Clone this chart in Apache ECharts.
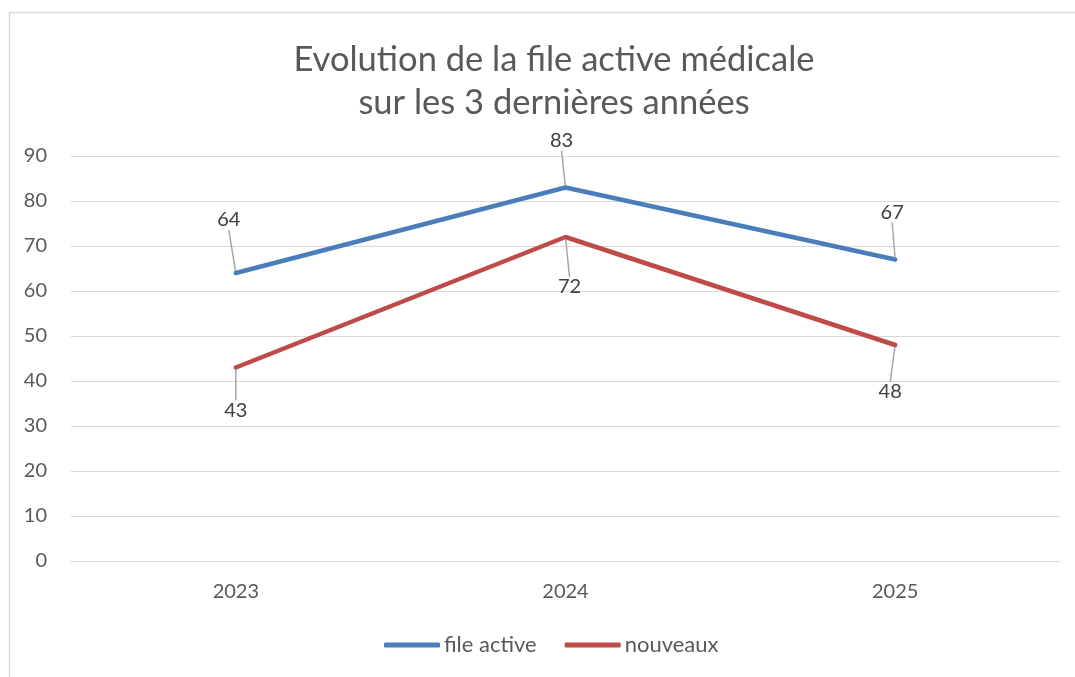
<!DOCTYPE html>
<html>
<head>
<meta charset="utf-8">
<script src="https://cdn.jsdelivr.net/npm/echarts@6/dist/echarts.min.js"></script>
<style>
  html, body { margin: 0; padding: 0; background: #fff; }
  #chart { width: 1075px; height: 677px; }
</style>
</head>
<body>
<div id="chart"></div>
<script>
// données
var annees = ['2023', '2024', '2025'];
var fileActive = [64, 83, 67];
var nouveaux = [43, 72, 48];
var yTicks = [0, 10, 20, 30, 40, 50, 60, 70, 80, 90];

// décalage des étiquettes (style callout Excel)
var decalFile = [[-7, -53], [-4, -47], [-3, -47]];
var decalNouv = [[0, 43], [4, 50], [-5, 47]];

var police = 'Lato, "Liberation Sans", sans-serif';
var gris = '#595959';

function placer(decal) {
    return function (p) {
        var d = decal[p.dataIndex];
        return {
            x: p.rect.x + p.rect.width / 2 + d[0],
            y: p.rect.y + p.rect.height / 2 + d[1],
            align: 'center',
            verticalAlign: 'middle'
        };
    };
}

var myChart = echarts.init(document.getElementById('chart'));
myChart.setOption({
    animation: false,
    textStyle: { fontFamily: police },
    graphic: [{
        type: 'rect',
        shape: { x: 9.5, y: 12.5, width: 1100, height: 700 },
        style: { fill: 'none', stroke: '#d9d9d9', lineWidth: 1.5 },
        silent: true
    }],
    title: {
        text: 'Evolution de la file active médicale\nsur les 3 dernières années',
        left: 549,
        textAlign: 'center',
        top: 33,
        textStyle: {
            fontFamily: police,
            fontSize: 34.5,
            fontWeight: 'normal',
            color: gris,
            lineHeight: 43
        }
    },
    grid: { left: 71, right: 15, top: 156, bottom: 116 },
    legend: {
        bottom: 16,
        left: 379,
        icon: 'roundRect',
        itemWidth: 56,
        itemHeight: 5,
        itemGap: 28,
        textStyle: { fontFamily: police, fontSize: 22, color: gris, padding: [0, 0, 0, -1] },
        data: ['file active', 'nouveaux']
    },
    xAxis: {
        type: 'category',
        data: annees,
        boundaryGap: true,
        axisLine: { lineStyle: { color: '#d9d9d9', width: 1 } },
        axisTick: { show: false },
        axisLabel: { fontSize: 20, color: gris, margin: 21 }
    },
    yAxis: {
        type: 'value',
        min: yTicks[0],
        max: yTicks[yTicks.length - 1],
        interval: 10,
        axisLine: { show: false },
        axisTick: { show: false },
        axisLabel: { fontSize: 20, color: gris, margin: 24 },
        splitLine: { lineStyle: { color: '#d9d9d9', width: 1 } }
    },
    series: [{
        name: 'file active',
        type: 'line',
        data: fileActive,
        symbol: 'circle',
        symbolSize: 4,
        lineStyle: { width: 4.5, color: '#4a7ebb', cap: 'round' },
        itemStyle: { color: '#4a7ebb' },
        label: { show: true, fontSize: 20, color: '#404040', fontFamily: police },
        labelLine: { show: true, lineStyle: { color: '#a6a6a6', width: 1.5 } },
        labelLayout: placer(decalFile)
    }, {
        name: 'nouveaux',
        type: 'line',
        data: nouveaux,
        symbol: 'circle',
        symbolSize: 4,
        lineStyle: { width: 4.5, color: '#be4b48', cap: 'round' },
        itemStyle: { color: '#be4b48' },
        label: { show: true, fontSize: 20, color: '#404040', fontFamily: police },
        labelLine: { show: true, lineStyle: { color: '#a6a6a6', width: 1.5 } },
        labelLayout: placer(decalNouv)
    }]
});
</script>
</body>
</html>
